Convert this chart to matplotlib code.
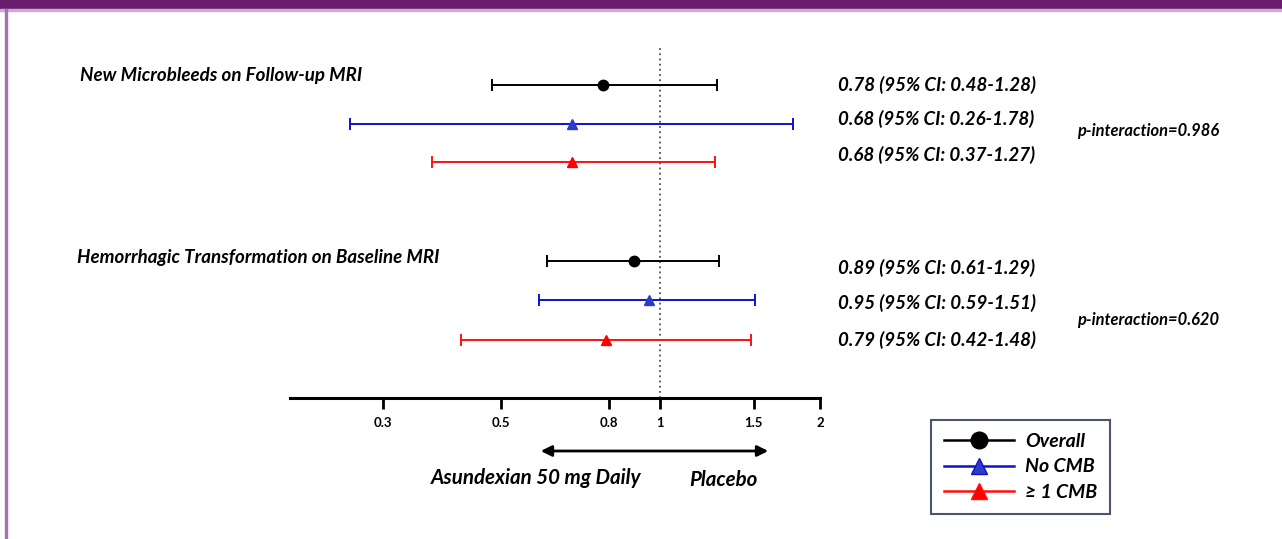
import numpy as np
import matplotlib.pyplot as plt
from matplotlib.lines import Line2D
from matplotlib.patches import Rectangle, FancyArrowPatch

# Forest plot data: hazard ratio and 95% CI per outcome / subgroup
outcomes = ['New Microbleeds on Follow-up MRI', 'Hemorrhagic Transformation on Baseline MRI']
subgroups = ['Overall', 'No CMB', '\u2265 1 CMB']
hr = [[0.78, 0.68, 0.68], [0.89, 0.95, 0.79]]
ci_low = [[0.48, 0.26, 0.37], [0.61, 0.59, 0.42]]
ci_high = [[1.28, 1.78, 1.27], [1.29, 1.51, 1.48]]
p_interaction = ['0.986', '0.620']
xticks = [0.3, 0.5, 0.8, 1, 1.5, 2]
xtick_labels = ['0.3', '0.5', '0.8', '1', '1.5', '2']

colors = ['black', '#1010d0', '#ff1010']
markers = ['o', '^', '^']
marker_face = ['black', '#2a3cc8', '#ff0000']

W, H = 1282, 539
plt.rcParams['font.family'] = ['Lato', 'DejaVu Sans']
fig = plt.figure(figsize=(W / 100, H / 100), dpi=100)


def px(x, y):
    # pixel position in the image -> figure fraction
    return x / W, 1 - y / H


# frame decoration
fig.patches.append(Rectangle((0, 1 - 9 / H), 1, 9 / H, transform=fig.transFigure,
                             color='#6a1f6e', zorder=0))
fig.patches.append(Rectangle((0, 1 - 11 / H), 1, 2 / H, transform=fig.transFigure,
                             color='#cfa8d6', zorder=0))
fig.patches.append(Rectangle((5 / W, 0), 2 / W, 1 - 9 / H, transform=fig.transFigure,
                             color='#a474b0', zorder=0))

ax = fig.add_axes([290 / W, 1 - 398 / H, 530 / W, (398 - 45) / H])
ax.set_xscale('log')
ax.set_xlim(0.2, 2)
ax.set_ylim(398, 45)  # y measured downward, like rows of the slide

row_y = [[85, 124, 162], [261, 300, 340]]
for g in range(len(outcomes)):
    for s in range(len(subgroups)):
        y = row_y[g][s]
        err = [[hr[g][s] - ci_low[g][s]], [ci_high[g][s] - hr[g][s]]]
        ax.errorbar(hr[g][s], y, xerr=err, fmt=markers[s], color=colors[s],
                    mfc=marker_face[s], mec=marker_face[s], ms=7.5, elinewidth=1.4,
                    capsize=4, capthick=1.4, zorder=3)

ax.axvline(1, color='#333333', linestyle=(0, (1.2, 2.2)), linewidth=1.1, zorder=1)

for sp in ['top', 'right', 'left']:
    ax.spines[sp].set_visible(False)
ax.spines['bottom'].set_linewidth(2.2)
ax.set_yticks([])
ax.xaxis.set_minor_locator(plt.NullLocator())
ax.set_xticks(xticks)
ax.set_xticklabels(xtick_labels, fontsize=9.5, fontweight='bold')
ax.tick_params(axis='x', length=8, width=2, pad=6)

# outcome titles
fig.text(*px(80, 75), outcomes[0], fontsize=13.5, fontweight='bold', style='italic',
         va='center', ha='left')
fig.text(*px(77, 257), outcomes[1], fontsize=13.5, fontweight='bold', style='italic',
         va='center', ha='left')

# HR text on the right
text_y = [[85, 119, 155], [268, 303, 340]]
for g in range(len(outcomes)):
    for s in range(len(subgroups)):
        label = f'{hr[g][s]:.2f} (95% CI: {ci_low[g][s]:.2f}-{ci_high[g][s]:.2f})'
        fig.text(*px(838, text_y[g][s]), label, fontsize=13.5, fontweight='bold',
                 style='italic', va='center', ha='left')
fig.text(*px(1077, 131), f'p-interaction={p_interaction[0]}', fontsize=11.9,
         fontweight='bold', style='italic', va='center', ha='left')
fig.text(*px(1077, 320), f'p-interaction={p_interaction[1]}', fontsize=11.9,
         fontweight='bold', style='italic', va='center', ha='left')

# direction arrow
fig.patches.append(FancyArrowPatch(
    px(538, 451), px(771, 451), transform=fig.transFigure, arrowstyle='<|-|>',
    mutation_scale=16, color='black', linewidth=2))
fig.text(*px(536, 478), 'Asundexian 50 mg Daily', fontsize=14.8, fontweight='bold',
         style='italic', va='center', ha='center')
fig.text(*px(723, 480), 'Placebo', fontsize=14.8, fontweight='bold',
         style='italic', va='center', ha='center')

# legend
handles = [Line2D([], [], color=colors[s], marker=markers[s], mfc=marker_face[s],
                  mec=colors[s], ms=12, lw=1.8) for s in range(len(subgroups))]
leg = fig.legend(handles, subgroups, loc='upper left', bbox_to_anchor=px(931, 420),
                 frameon=True, fancybox=False, handlelength=3.6, handletextpad=0.6,
                 borderpad=0.65, labelspacing=0.45, borderaxespad=0,
                 prop={'size': 14, 'weight': 'bold', 'style': 'italic'})
leg.get_frame().set_edgecolor('#1f2a48')
leg.get_frame().set_linewidth(1.5)

fig.savefig('out.png', dpi=100)
